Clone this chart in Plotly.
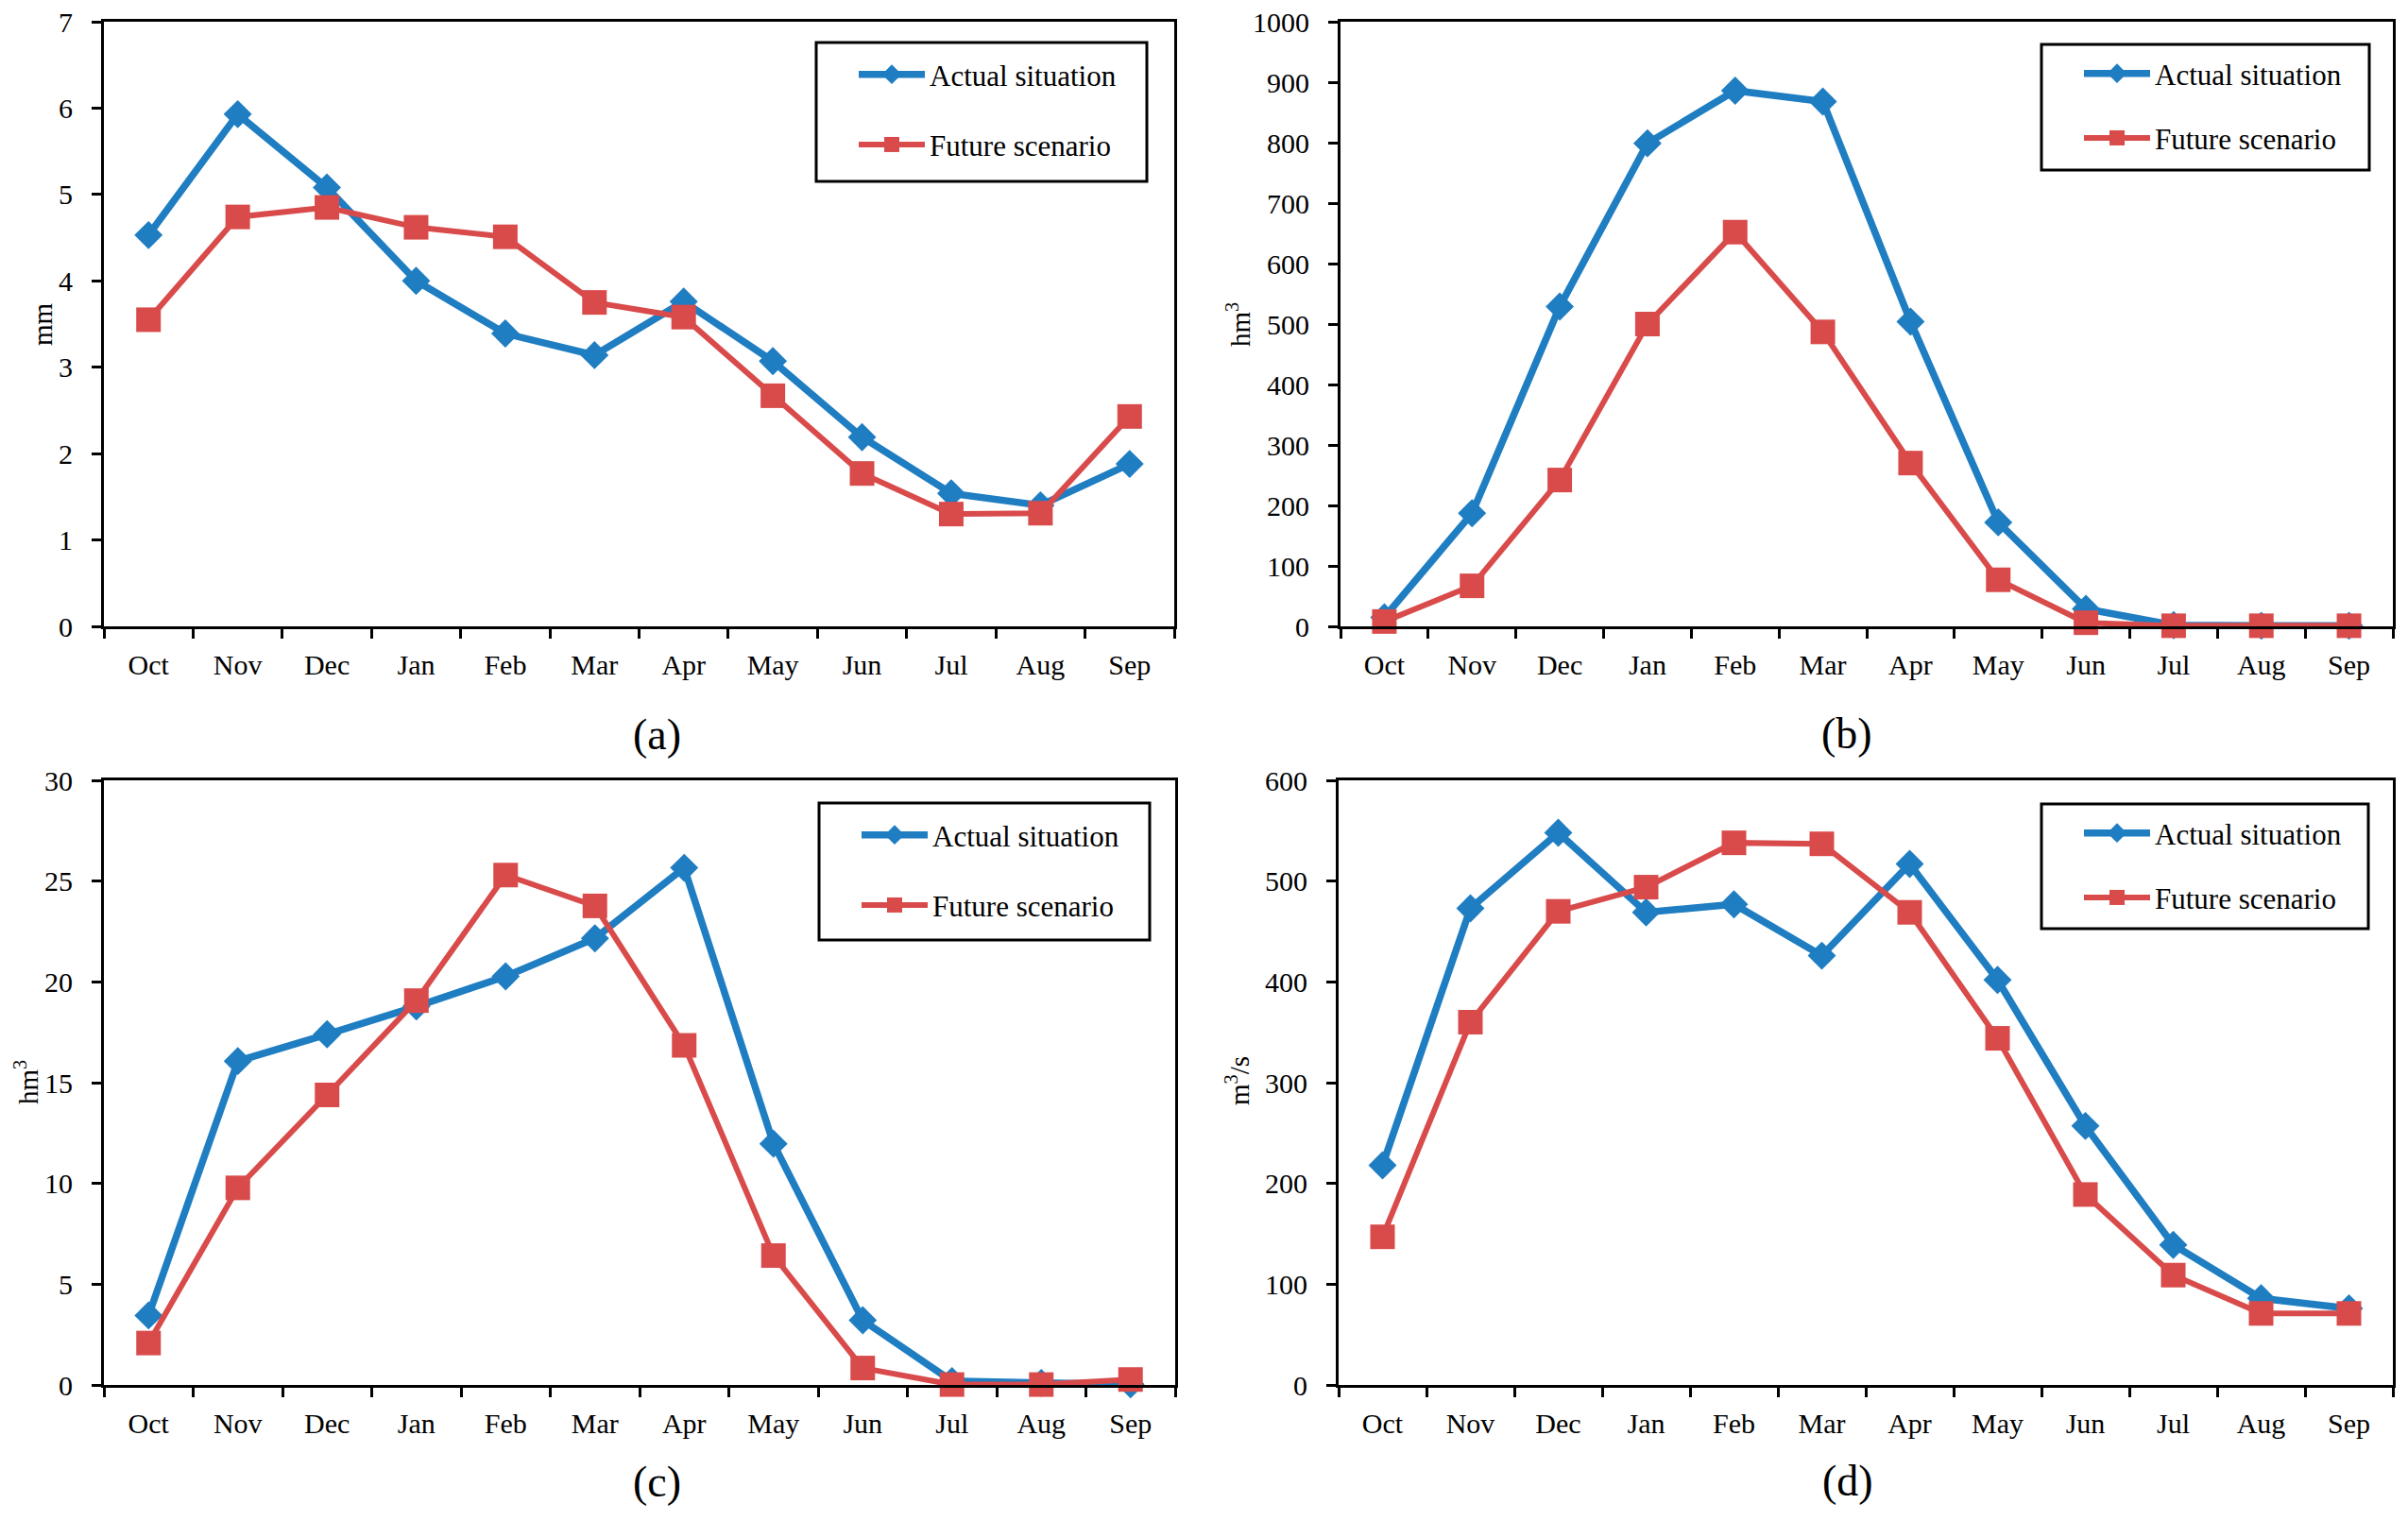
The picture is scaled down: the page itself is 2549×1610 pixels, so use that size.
import plotly.graph_objects as go

# ---------------- data ----------------
months = ["Oct", "Nov", "Dec", "Jan", "Feb", "Mar", "Apr", "May", "Jun", "Jul", "Aug", "Sep"]

a_actual = [4.53, 5.93, 5.08, 4.00, 3.39, 3.14, 3.76, 3.07, 2.19, 1.54, 1.40, 1.88]
a_future = [3.55, 4.74, 4.85, 4.62, 4.51, 3.75, 3.58, 2.67, 1.77, 1.30, 1.31, 2.43]

b_actual = [15, 187, 529, 799, 886, 868, 504, 172, 29, 2, 1, 1]
b_future = [8, 67, 242, 500, 652, 487, 270, 77, 6, 1, 1, 1]

c_actual = [3.45, 16.07, 17.40, 18.78, 20.27, 22.16, 25.66, 11.97, 3.21, 0.19, 0.10, 0.03]
c_future = [2.08, 9.78, 14.39, 19.07, 25.30, 23.77, 16.85, 6.42, 0.84, 0.02, 0.02, 0.27]

d_actual = [218, 473, 548, 469, 477, 426, 517, 402, 257, 139, 86, 76]
d_future = [147, 360, 470, 494, 538, 537, 469, 344, 189, 109, 71, 71]

series_names = ["Actual situation", "Future scenario"]
y_ranges = [[0, 7], [0, 1000], [0, 30], [0, 600]]
y_dticks = [1, 100, 5, 100]
y_titles = ["mm", "hm<sup>3</sup>", "hm<sup>3</sup>", "m<sup>3</sup>/s"]
panel_labels = ["(a)", "(b)", "(c)", "(d)"]

# ---------------- layout geometry (pixels) ----------------
W, H = 2549, 1610
BLUE = "#1F7DC2"
RED = "#D94B4B"
FONT = "Liberation Serif"

def px(x):
    return x / W

def py(y):
    return 1 - y / H

# plot areas: (left, right, top, bottom) in px
areas = [(110, 1243, 23, 663), (1419, 2533, 23, 663),
         (110, 1244, 826, 1466), (1417, 2533, 826, 1466)]
# legend boxes (left, right, top, bottom)
leg_boxes = [(864, 1214, 45, 192), (2161, 2508, 47, 180),
             (867, 1217, 850, 995), (2161, 2507, 851, 983)]
leg_offsets = [7, 4, 7, 4]
leg_gaps = [31, 25, 31, 25]
ytitle_pos = [(45, 343), (1311, 344), (28, 1146), (1310, 1144)]
label_pos = [(695, 777), (1955, 776), (695, 1568), (1956, 1567)]

data = [(a_actual, a_future), (b_actual, b_future), (c_actual, c_future), (d_actual, d_future)]

fig = go.Figure()
legend_keys = ["legend", "legend2", "legend3", "legend4"]

for i, (act, fut) in enumerate(data):
    sfx = "" if i == 0 else str(i + 1)
    fig.add_trace(go.Scatter(
        x=months, y=act, name=series_names[0], mode="lines+markers",
        line=dict(color=BLUE, width=7.5),
        marker=dict(symbol="diamond", size=23, color=BLUE),
        xaxis="x" + sfx, yaxis="y" + sfx, legend=legend_keys[i],
        legendgroup="act" + sfx, cliponaxis=False))
    fig.add_trace(go.Scatter(
        x=months, y=fut, name=series_names[1], mode="lines+markers",
        line=dict(color=RED, width=6),
        marker=dict(symbol="square", size=26, color=RED),
        xaxis="x" + sfx, yaxis="y" + sfx, legend=legend_keys[i],
        legendgroup="fut" + sfx, cliponaxis=False))

layout = dict(
    width=W, height=H, margin=dict(l=0, r=0, t=0, b=0, autoexpand=False),
    paper_bgcolor="white", plot_bgcolor="white",
    font=dict(family=FONT, size=30, color="black"),
    showlegend=True,
)

shapes = []
annotations = []
for i in range(4):
    sfx = "" if i == 0 else str(i + 1)
    l, r, t, b = areas[i]
    layout["xaxis" + sfx] = dict(
        domain=[px(l), px(r)], anchor="y" + sfx,
        type="category", range=[-0.5, 11.5],
        showline=True, linecolor="black", linewidth=3, mirror=True,
        ticks="outside", tickson="boundaries", ticklen=10, tickwidth=3, tickcolor="black",
        showgrid=False, zeroline=False, automargin=False,
        tickfont=dict(family=FONT, size=30, color="black"),
        ticklabelstandoff=12,
    )
    layout["yaxis" + sfx] = dict(
        domain=[py(b), py(t)], anchor="x" + sfx,
        range=y_ranges[i], dtick=y_dticks[i], tick0=0,
        showline=True, linecolor="black", linewidth=3, mirror=True,
        ticks="outside", ticklen=10, tickwidth=3, tickcolor="black",
        showgrid=False, zeroline=False, automargin=False,
        tickfont=dict(family=FONT, size=30, color="black"),
        ticklabelstandoff=14,
    )
    lb = leg_boxes[i]
    layout[legend_keys[i]] = dict(
        x=px(lb[0] + 40), y=py(lb[2] + leg_offsets[i]), xanchor="left", yanchor="top",
        bgcolor="rgba(0,0,0,0)", borderwidth=0,
        font=dict(family=FONT, size=31, color="black"),
        traceorder="grouped", tracegroupgap=leg_gaps[i],
        itemwidth=70,
    )
    shapes.append(dict(type="rect", xref="paper", yref="paper",
                       x0=px(lb[0]), x1=px(lb[1]), y0=py(lb[3]), y1=py(lb[2]),
                       line=dict(color="black", width=3), fillcolor="rgba(0,0,0,0)"))
    tx, ty = ytitle_pos[i]
    annotations.append(dict(text=y_titles[i], x=px(tx), y=py(ty), xref="paper", yref="paper",
                            showarrow=False, textangle=-90, xanchor="center", yanchor="middle",
                            font=dict(family=FONT, size=29, color="black")))
    lx, ly = label_pos[i]
    annotations.append(dict(text=panel_labels[i], x=px(lx), y=py(ly), xref="paper", yref="paper",
                            showarrow=False, xanchor="center", yanchor="middle",
                            font=dict(family=FONT, size=46, color="black")))

layout["shapes"] = shapes
layout["annotations"] = annotations
fig.update_layout(**layout)
fig.write_html("out.html")
